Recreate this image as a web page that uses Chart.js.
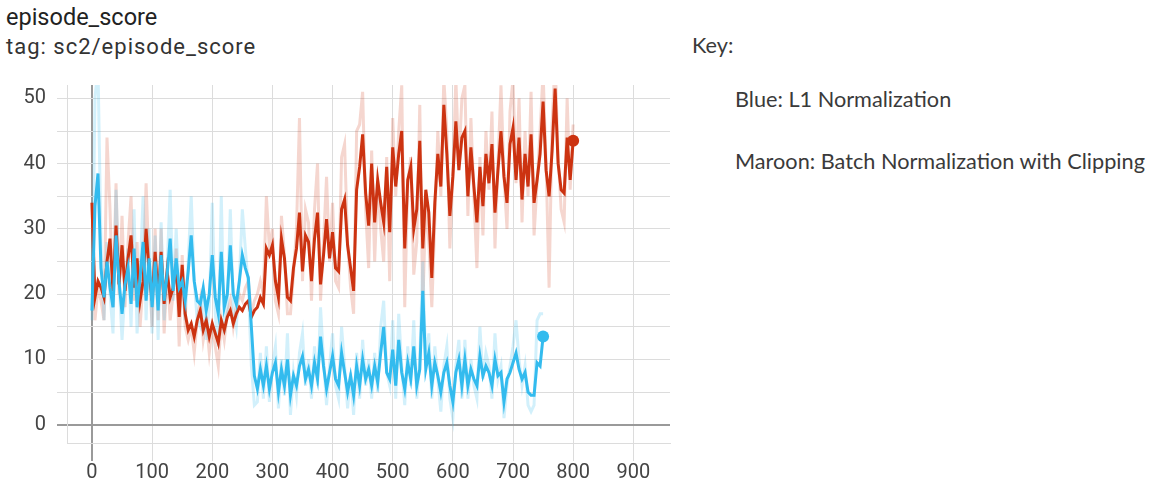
<!DOCTYPE html>
<html>
<head>
<meta charset="utf-8">
<script src="https://cdn.jsdelivr.net/npm/chart.js@4"></script>
<style>
  body { margin: 0; background: #fff; width: 1150px; height: 486px; overflow: hidden; position: relative; }
  .title { position: absolute; left: 6px; top: 3px; font: 23.5px Roboto, sans-serif; color: #222; }
  .tag { position: absolute; left: 6px; top: 34px; font: 22px Roboto, sans-serif; letter-spacing: 1px; color: #333; }
  .key { position: absolute; font: 21.7px Lato, sans-serif; color: #3a3a3a; white-space: nowrap; }
  #wrap { position: absolute; left: 0; top: 62px; width: 690px; height: 424px; }
</style>
</head>
<body>
<div class="title">episode_score</div>
<div class="tag">tag: sc2/episode_score</div>
<div class="key" style="left:692px; top:32px;">Key:</div>
<div class="key" style="left:735px; top:86px;">Blue: L1 Normalization</div>
<div class="key" style="left:735px; top:148px;">Maroon: Batch Normalization with Clipping</div>
<div id="wrap"><canvas id="chart" width="690" height="424"></canvas></div>
<script>
// steps are sampled every 5
const stepSize = 5;
const xTicks = [0, 100, 200, 300, 400, 500, 600, 700, 800, 900];

// Maroon run (batch norm with clipping), steps 0..800
const maroonSmoothed = [
  34, 19.5, 22, 21, 19.5, 25, 28.5, 20.5, 30.5, 21.5,
  27.5, 20.5, 25.5, 29, 21, 25.5, 19, 22, 30, 23.5,
  19, 26.5, 19.5, 26.5, 18.5, 23.5, 19.5, 21, 24.5, 16.5,
  24.5, 17, 14.5, 15.5, 13.5, 16, 17.5, 14.5, 16, 13.5,
  15.5, 14, 12.5, 16, 14.5, 16.5, 17.5, 15.5, 17, 18,
  17.5, 18.5, 19, 16.5, 17.5, 18, 19.5, 18.5, 27, 26,
  27.5, 22, 19.5, 28.5, 25.5, 19.5, 19, 24, 27, 32.5,
  23.5, 29, 28, 22, 28.5, 32.5, 21.5, 26, 31.5, 25.5,
  29.5, 24, 23.5, 33, 34.5, 27.5, 24, 20.5, 36, 39.5,
  44.5, 35.5, 30.5, 40, 31, 37.5, 34, 31, 39.5, 29.5,
  42.5, 36.5, 41.5, 45, 27, 37.5, 39.5, 30, 33, 43.5,
  27, 36, 32.5, 22.5, 34, 41.5, 36.5, 49, 41.5, 32,
  38, 46.5, 39, 44, 45, 35, 42.5, 36.5, 31, 39.5,
  33.5, 41.5, 37, 43, 32.5, 39, 45, 38, 34, 43,
  45.5, 37.5, 44, 34.5, 41.5, 36.5, 44.5, 34, 37.5, 41.5,
  49.5, 39, 35, 42, 51.5, 40, 36, 35.5, 44, 37.5,
  43.5
];
const maroonRaw = [
  34, 16, 21, 19, 16, 44, 33, 18, 37, 20,
  32, 18, 28, 35, 19, 28, 15, 22, 37, 24,
  15, 30, 16, 30, 14, 24, 16, 20, 27, 12,
  26, 15, 13, 15, 11, 16, 19, 13, 16, 11,
  15, 12, 9, 16, 13, 17, 19, 15, 18, 20,
  19, 21, 22, 17, 19, 20, 22, 20, 35, 27,
  30, 19, 17, 32, 26, 17, 17, 23, 30, 47,
  22, 33, 31, 19, 33, 40, 19, 28, 38, 25,
  34, 22, 21, 41, 43, 28, 21, 17, 45, 46,
  51, 33, 24, 42, 25, 37, 30, 25, 41, 22,
  47, 35, 45, 52, 18, 37, 41, 23, 28, 49,
  18, 34, 28, 18, 31, 45, 35, 53, 45, 27,
  38, 53, 40, 50, 52, 32, 47, 35, 24, 41,
  29, 45, 36, 48, 27, 40, 52, 38, 30, 48,
  53, 37, 50, 31, 45, 35, 51, 29, 37, 45,
  54, 40, 21, 46, 56, 41, 33, 31, 50, 36,
  46
];

// Blue run (L1 normalization), steps 0..750
const blueSmoothed = [
  17.5, 33.5, 38.5, 24, 19.5, 25, 21, 18, 29, 22,
  17, 21.5, 24, 18.5, 27, 18, 22.5, 28, 19, 25.5,
  18, 25, 17.5, 26, 19, 23, 28.5, 20.5, 25.5, 21,
  22, 19, 23.5, 29, 22, 19, 18.5, 21, 17.5, 20,
  26, 19.5, 17, 26.5, 18, 20, 27.5, 20, 18.5, 22,
  26, 24, 22.5, 15, 7.5, 5.5, 8.5, 6, 9, 5.5,
  8, 9.5, 5, 8.5, 6, 10, 4.5, 7.5, 6, 9,
  10.5, 7, 8.5, 6, 9.5, 7, 13.5, 9, 5.5, 8,
  10.5, 7, 6, 11, 8, 5, 7.5, 4.5, 9, 6,
  10, 7, 8.5, 6, 9, 6.5, 11, 15, 8, 7,
  11.5, 6, 13, 8, 5.5, 9.5, 7, 12, 6, 8.5,
  20.5, 8.5, 11, 6, 9.5, 7.5, 5, 8, 9.5, 6,
  3.5, 8, 10, 6, 10, 6, 8.5, 7, 6, 10.5,
  7.5, 9, 8, 6, 10, 7.5, 8, 3.5, 7, 8,
  9.5, 11, 8.5, 7, 8, 5, 4.5, 4.5, 9.5, 9,
  13.5
];
const blueRaw = [
  16, 50, 55, 28, 16, 28, 20, 14, 36, 22,
  13, 21, 27, 15, 33, 14, 23, 35, 16, 30,
  14, 29, 13, 31, 16, 24, 36, 19, 30, 20,
  22, 16, 25, 35, 22, 16, 15, 20, 13, 18,
  34, 17, 12, 35, 14, 18, 33, 18, 15, 22,
  33, 27, 21, 9, 3, 3.5, 11, 4, 12, 3.5,
  9, 12, 2.5, 10, 4.5, 14, 1.5, 8, 4.5, 11,
  14, 6, 10, 4, 12, 6, 18, 10, 3, 9,
  14, 6, 4, 15, 9, 2.5, 8, 1.5, 11, 4,
  13, 6, 10, 4, 11, 5, 15, 19, 8, 6,
  16, 4, 17, 9, 3, 12, 6, 16, 4, 10,
  25, 9, 14, 4, 12, 7, 2, 9, 12, 4,
  1, 9, 13, 4, 13, 4, 10, 6, 4, 15,
  7, 11, 9, 4, 14, 7, 9, 1, 6, 9,
  12, 16, 10, 6, 9, 3, 2, 3, 16, 17,
  17
];

const toPoints = (vals) => vals.map((v, i) => ({ x: i * stepSize, y: v }));
const lastDot = (r) => (ctx) => ctx.dataIndex === ctx.dataset.data.length - 1 ? r : 0;

const tickFont = { family: "Roboto", size: 20 };
const gridColor = "#dcdcdc";
const zeroColor = "#9a9a9a";
const isZero = (c) => c.tick && c.tick.value === 0;

new Chart(document.getElementById("chart"), {
  type: "line",
  data: {
    datasets: [
      {
        data: toPoints(blueSmoothed),
        borderColor: "#33bbee",
        backgroundColor: "#33bbee",
        borderWidth: 3,
        pointRadius: lastDot(6),
        pointBorderWidth: 0,
      },
      {
        data: toPoints(maroonSmoothed),
        borderColor: "#cc3311",
        backgroundColor: "#cc3311",
        borderWidth: 3,
        pointRadius: lastDot(6),
        pointBorderWidth: 0,
      },
      {
        data: toPoints(blueRaw),
        borderColor: "rgba(51, 187, 238, 0.22)",
        borderWidth: 3,
        pointRadius: 0,
      },
      {
        data: toPoints(maroonRaw),
        borderColor: "rgba(204, 51, 17, 0.2)",
        borderWidth: 3,
        pointRadius: 0,
      },
    ],
  },
  options: {
    responsive: false,
    devicePixelRatio: 1,
    animation: false,
    layout: { padding: { top: 5, right: 20, left: 0, bottom: 0 } },
    plugins: { legend: { display: false }, tooltip: { enabled: false } },
    elements: { line: { tension: 0 } },
    scales: {
      x: {
        type: "linear",
        min: -41.5,
        max: 961,
        afterFit: (s) => { s.height = 43; },
        afterBuildTicks: (s) => { s.ticks = xTicks.map((v) => ({ value: v })); },
        ticks: {
          autoSkip: false,
          maxRotation: 0,
          padding: 0,
          color: "#444",
          font: tickFont,
        },
        grid: {
          color: (c) => (isZero(c) ? zeroColor : gridColor),
          lineWidth: (c) => (isZero(c) ? 2 : 1),
          tickLength: 18,
        },
        border: { display: true, color: gridColor },
      },
      y: {
        min: -2.8,
        max: 52.05,
        afterFit: (s) => { s.width = 67; },
        ticks: {
          stepSize: 5,
          includeBounds: false,
          autoSkip: false,
          padding: 11,
          color: "#444",
          font: tickFont,
          callback: (v) => (v % 10 === 0 ? v : ""),
        },
        grid: {
          color: (c) => (isZero(c) ? zeroColor : gridColor),
          lineWidth: (c) => (isZero(c) ? 2 : 1),
          tickLength: 10,
        },
        border: { display: true, color: gridColor },
      },
    },
  },
});
</script>
</body>
</html>
